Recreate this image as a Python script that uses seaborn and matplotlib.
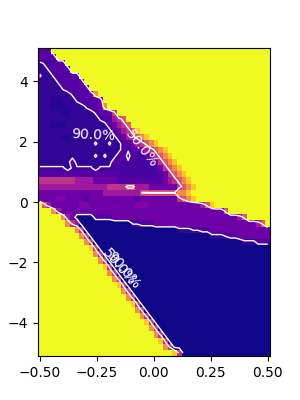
import re
import numpy as np
import pandas as pd
import seaborn as sns
import matplotlib
matplotlib.use("Agg")
import matplotlib.pyplot as plt

# confidence per colour letter
conf_levels = {"y": 0.0, "o": 0.12, "r": 0.28, "p": 0.44, "q": 0.49, "n": 0.56, "m": 0.66,
               "w": 0.74, "v": 0.79, "u": 0.85, "d": 0.89, "i": 0.93, "j": 0.96, "b": 0.995}

# one row per y value, top to bottom, runs of letters, last letter fills the row
grid_rows = [
    "3u 1y", "1v 3u 1y", "1i 2d 3u 1y", "2i 1d 4u 1y", "1d 2i 1d 5u 1y",
    "4i 1d 4u 1v 1y", "5i 1d 4u 1v 1y", "7i 1d 3u 1v 1r 1y", "3i 2j 3i 1d 4u 1v 1y",
    "3i 3j 4i 1d 2u 1v 1r 1y",
    "5i 2j 5i 1d 2u 1v 1n 1y", "13i 1d 2u 1m 1n 1p 1y", "3i 3j 9i 1u 1v 1m 1n 1p 1y",
    "16i 1u 1v 1m 1n 1p 1o 1y", "5i 2j 10i 1u 1v 1m 1n 1p 1r 1o 1y",
    "12i 1d 2i 1d 2i 2u 1v 1m 1n 1p 1r 1o 1y", "18i 1u 1d 2u 1v 1m 1n 1p 1r 1o 1y",
    "12i 1d 1i 1d 2i 2u 1i 1u 2d 1u 1v 1n 1p 1r 1o 1y", "7i 1u 8i 2u 6d 1u 1v 1n 1p 1r 1o 1y",
    "6d 1i 5d 1i 3d 9d 1u 1v 1n 1p 1r 1o 1y", "18u 8d 1u 1v 1n 1p 1r 1o 1y",
    "8n 4m 5v 10u 1v 1m 1n 1p 1r 1o 1y", "15m 4n 2p 3m 6v 1n 1p 1r 1o 1y",
    "14v 8m 8q 2r 1o 1y", "4v 2w 4v 1u 10v 1u 8v 1n 1p 1r 1o 1y",
    "1y 1p 1m 6v 2w 10v 3w 11v 1m 1p 1o 1y", "3y 1r 1m 35v 1p 1y",
    "5y 1r 1m 1v 4b 4u 27v 1m 1p 1y", "6y 1r 1n 1m 11b 2d 3u 22v 1m 1p 1y",
    "8y 1r 1n 20b 3i 2d 2u 13v", "9y 1r 1n 26b 3i 1d 2u 7v",
    "10y 1r 1n 32b 3i 3u", "11y 1o 1n 1b", "12y 1r 1n 1b", "13y 1r 1n 1b", "14y 1o 1n 1b",
    "15y 1r 1n 1b", "16y 1r 1n 1b", "17y 1o 1n 1b", "18y 1r 1n 1b", "19y 1r 1n 1b",
    "20y 1o 1n 1b", "21y 1r 1n 1b", "22y 1r 1n 1b", "23y 1o 1n 1b", "24y 1r 1n 1b",
    "25y 1r 1n 1b", "26y 1o 1n 1b", "27y 1r 1n 1b", "29y 1o 1n 1b",
]

x_ticks = [-0.50, -0.25, 0.00, 0.25, 0.50]
x_tick_labels = ["\u22120.50", "\u22120.25", "0.00", "0.25", "0.50"]
y_ticks = [4, 2, 0, -2, -4]
y_tick_labels = ["4", "2", "0", "\u22122", "\u22124"]

contour_levels = [0.5, 0.9]

label_texts = ["90.0%", "50.0%", "50.0%", "90.0%"]
label_x = [-0.266, -0.052, -0.153, -0.135]
label_y = [2.2, 1.77, -2.16, -2.26]
label_rot = [-3, -52, -50, -50]


def decode(row):
    cells = []
    for n, c in re.findall(r"(\d+)(\w)", row):
        cells += [conf_levels[c]] * int(n)
    return cells + [cells[-1]] * (50 - len(cells))


conf = pd.DataFrame([decode(r) for r in grid_rows])


def col_pos(x):
    return (np.asarray(x) + 0.5) / (1 / 49) + 0.5


def row_pos(y):
    return (5 - np.asarray(y)) / (10 / 49) + 0.5


fig, ax = plt.subplots(figsize=(3, 4), dpi=100)
sns.heatmap(conf, ax=ax, cmap="plasma_r", vmin=0, vmax=1, cbar=False,
            xticklabels=False, yticklabels=False)

xx = np.arange(50) + 0.5
ax.contour(xx, xx, conf.values, levels=contour_levels, colors="white", linewidths=1)

for t, lx, ly, rot in zip(label_texts, label_x, label_y, label_rot):
    ax.text(col_pos(lx), row_pos(ly), t, color="white", fontsize=10, rotation=rot,
            rotation_mode="anchor", ha="center", va="center")

ax.set_xticks(col_pos(x_ticks))
ax.set_xticklabels(x_tick_labels, rotation=0)
ax.set_yticks(row_pos(y_ticks))
ax.set_yticklabels(y_tick_labels, rotation=0)
ax.tick_params(length=3.5, width=0.8, labelsize=10)
for s in ax.spines.values():
    s.set_visible(True)
    s.set_linewidth(0.8)

plt.savefig("out.png", dpi=100)
